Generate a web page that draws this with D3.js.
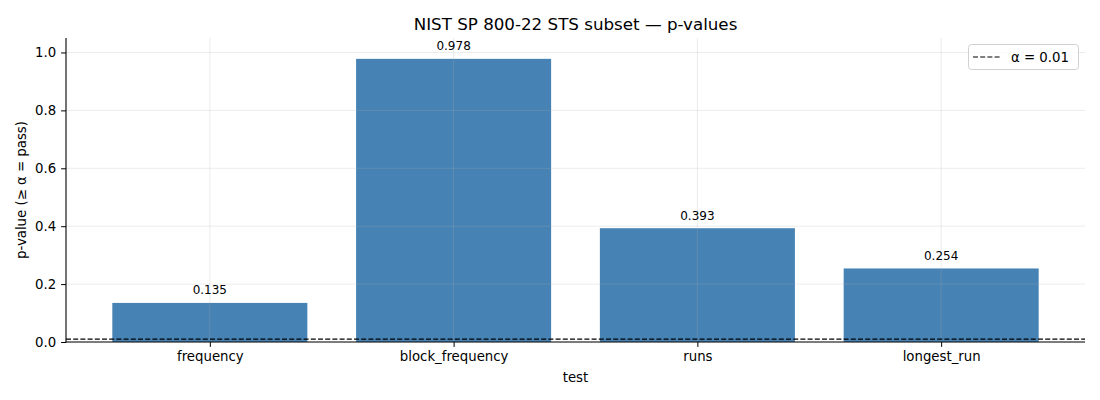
<!DOCTYPE html>
<html><head><meta charset="utf-8">
<script src="https://cdn.jsdelivr.net/npm/d3@7"></script>
<style>body{margin:0;background:#fff;} svg{font-family:"DejaVu Sans",sans-serif;}</style>
</head><body><svg id="c" width="1100" height="400"></svg>
<script>
const categories = ["frequency", "block_frequency", "runs", "longest_run"];
const pvalues = [0.135, 0.978, 0.393, 0.254];
const yTicks = [0.0, 0.2, 0.4, 0.6, 0.8, 1.0];
const alpha = 0.01;

const svg = d3.select("#c");
const L = 66, R = 1085, T = 38, B = 342;
const n = categories.length;
const x = d3.scaleLinear().domain([-0.59, n - 1 + 0.59]).range([L, R]);
const y = d3.scaleLinear().domain([0, 1.05]).range([B, T]);
const bw = x(0.8) - x(0);

// bars
svg.append("g").selectAll("rect").data(pvalues).join("rect")
  .attr("x", (d, i) => x(i - 0.4)).attr("width", bw)
  .attr("y", d => y(d)).attr("height", d => y(0) - y(d))
  .attr("fill", "#4682b4");

// grid (above bars)
const grid = svg.append("g").attr("stroke", "#b0b0b0").attr("stroke-opacity", 0.3).attr("stroke-width", 0.8);
yTicks.forEach(t => grid.append("line").attr("x1", L).attr("x2", R).attr("y1", y(t)).attr("y2", y(t)));
categories.forEach((c, i) => grid.append("line").attr("x1", x(i)).attr("x2", x(i)).attr("y1", T).attr("y2", B));

// alpha line
svg.append("line").attr("x1", L).attr("x2", R).attr("y1", y(alpha)).attr("y2", y(alpha))
  .attr("stroke", "#000").attr("stroke-width", 1.2).attr("stroke-dasharray", "5,2.2");

// bar labels
svg.append("g").selectAll("text").data(pvalues).join("text")
  .attr("x", (d, i) => x(i)).attr("y", d => y(d) - 8.5)
  .attr("text-anchor", "middle").attr("font-size", 12).attr("fill", "#000")
  .text(d => d.toFixed(3));

// axes
const yAxis = d3.axisLeft(y).tickValues(yTicks).tickFormat(d3.format(".1f")).tickSize(4.9).tickPadding(4.9);
const gy = svg.append("g").attr("transform", `translate(${L},0)`).call(yAxis);
const xAxis = d3.axisBottom(x).tickValues(d3.range(n)).tickFormat(i => categories[i]).tickSize(4.9).tickPadding(4.9);
const gx = svg.append("g").attr("transform", `translate(0,${B})`).call(xAxis);
[gx, gy].forEach(g => {
  g.selectAll("text").attr("font-size", 13.3).attr("fill", "#000").attr("font-family", "DejaVu Sans");
  g.selectAll("line").attr("stroke", "#000").attr("stroke-width", 1);
  g.select(".domain").remove();
});
svg.append("line").attr("x1", L).attr("x2", L).attr("y1", T).attr("y2", B + 0.5).attr("stroke", "#000").attr("stroke-width", 1.1);
svg.append("line").attr("x1", L - 0.5).attr("x2", R).attr("y1", B).attr("y2", B).attr("stroke", "#000").attr("stroke-width", 1.1);

// labels
svg.append("text").attr("x", (L + R) / 2).attr("y", 30).attr("text-anchor", "middle")
  .attr("font-size", 16.7).attr("fill", "#000").text("NIST SP 800-22 STS subset — p-values");
svg.append("text").attr("x", (L + R) / 2).attr("y", 382).attr("text-anchor", "middle")
  .attr("font-size", 13.3).attr("fill", "#000").text("test");
svg.append("text").attr("transform", `translate(26,${(T + B) / 2}) rotate(-90)`).attr("text-anchor", "middle")
  .attr("font-size", 13.3).attr("fill", "#000").text("p-value (≥ α = pass)");

// legend
const lg = svg.append("g");
lg.append("rect").attr("x", 968.5).attr("y", 44.5).attr("width", 110).attr("height", 25).attr("rx", 3)
  .attr("fill", "#fff").attr("fill-opacity", 0.8).attr("stroke", "#d0d0d0");
lg.append("line").attr("x1", 973).attr("x2", 1001).attr("y1", 57).attr("y2", 57)
  .attr("stroke", "#000").attr("stroke-width", 1.2).attr("stroke-dasharray", "5,2.2");
lg.append("text").attr("x", 1011).attr("y", 61.5).attr("font-size", 13.3).attr("fill", "#000").text("α = 0.01");
</script></body></html>
